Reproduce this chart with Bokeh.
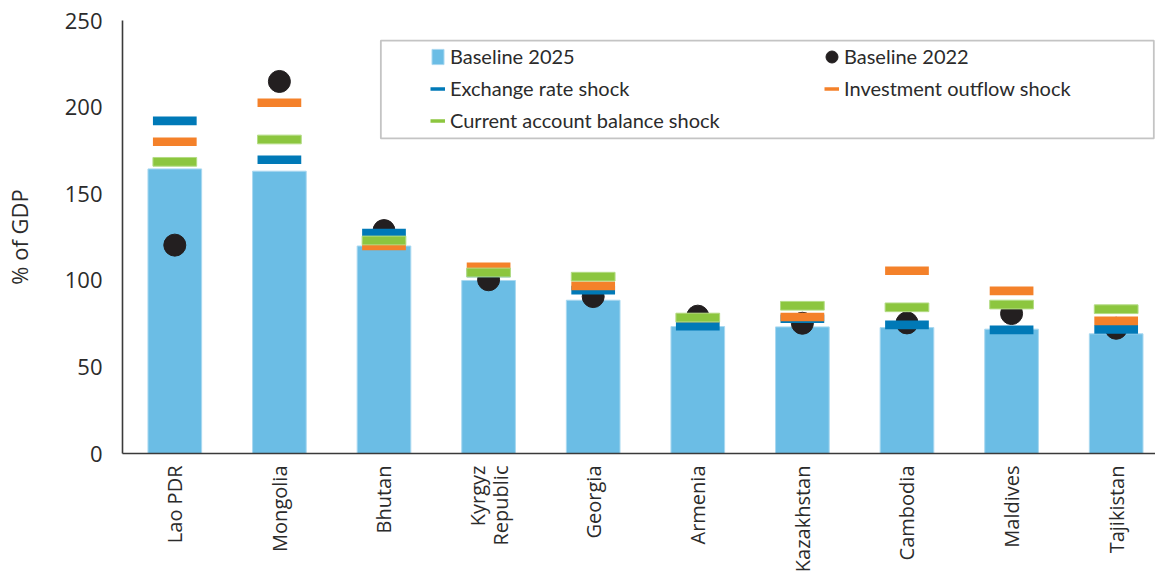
import math
from bokeh.plotting import figure
from bokeh.models import (Range1d, FixedTicker, Legend, LegendItem, BoxAnnotation,
                          ColumnDataSource)
from bokeh.embed import file_html
from bokeh.resources import INLINE

countries = ["Lao PDR", "Mongolia", "Bhutan", "Kyrgyz\nRepublic", "Georgia",
             "Armenia", "Kazakhstan", "Cambodia", "Maldives", "Tajikistan"]
baseline_2025 = [164.3, 163.0, 119.8, 99.9, 88.5, 73.3, 73.1, 72.7, 71.8, 69.1]
baseline_2022 = [120.3, 214.8, 128.7, 100.3, 90.6, 79.3, 75.2, 75.4, 80.8, 72.3]
exchange_rate_shock = [192.1, 169.6, 127.2, 104.3, 94.3, 73.5, 77.8, 74.3, 71.4, 71.7]
investment_outflow_shock = [180.0, 202.5, 119.9, 107.8, 96.8, 78.3, 78.8, 105.5, 93.9, 76.6]
current_account_shock = [168.4, 181.3, 123.0, 104.5, 102.1, 78.5, 85.3, 84.4, 86.0, 83.3]
y_ticks = [0, 50, 100, 150, 200, 250]

xpos = list(range(1, len(countries) + 1))
src = ColumnDataSource(dict(x=xpos, b25=baseline_2025, b22=baseline_2022,
                            ex=exchange_rate_shock, inv=investment_outflow_shock,
                            ca=current_account_shock))

BAR = "#6BBDE5"
BLUE = "#0079B7"
ORANGE = "#F4812A"
GREEN = "#8CC63F"
DOT = "#231F20"
TXT = "#2b2b2b"

p = figure(width=1155, height=575, output_backend="svg", toolbar_location=None,
           x_range=Range1d(0.5, 0.5 + 9.876), y_range=Range1d(0, 250),
           min_border_left=116, min_border_right=0, min_border_top=20,
           min_border_bottom=122)
p.outline_line_color = None
p.xgrid.visible = False
p.ygrid.visible = False
p.background_fill_color = "white"

bars = p.vbar(x="x", top="b25", width=0.513, source=src, fill_color=BAR,
              line_color="#a9d8f0", line_width=1)
dots = p.ellipse(x="x", y="b22", width=22, height=22, width_units="screen",
                 height_units="screen", source=src, fill_color=DOT, line_color=DOT)
p.rect(x="x", y="ex", width=0.418, height=8.7, height_units="screen",
       source=src, fill_color=BLUE, line_color=None)
p.rect(x="x", y="inv", width=0.418, height=8.7, height_units="screen",
       source=src, fill_color=ORANGE, line_color=None)
p.rect(x="x", y="ca", width=0.418, height=8.7, height_units="screen",
       source=src, fill_color=GREEN, line_color="#b3dc84", line_width=1)

# legend-only swatches (no visible data)
nan = float("nan")
l_ex = p.line(x=[nan], y=[nan], line_color=BLUE, line_width=3.5)
l_inv = p.line(x=[nan], y=[nan], line_color=ORANGE, line_width=3.5)
l_ca = p.line(x=[nan], y=[nan], line_color=GREEN, line_width=3.5)

# legend frame
p.add_layout(BoxAnnotation(left=2.97, right=10.36, bottom=181.9, top=238.4,
                           fill_alpha=0, line_color="#3a3a3a", line_width=1.8,
                           level="overlay"))

legend = Legend(items=[
    LegendItem(label="Baseline 2025", renderers=[bars]),
    LegendItem(label="Baseline 2022", renderers=[dots]),
    LegendItem(label="Exchange rate shock", renderers=[l_ex]),
    LegendItem(label="Investment outflow shock", renderers=[l_inv]),
    LegendItem(label="Current account balance shock", renderers=[l_ca]),
], orientation="horizontal", ncols=2, location=(308, 321),
    padding=0, margin=0, spacing=8, glyph_width=15, glyph_height=19,
    label_height=19, label_width=366, label_standoff=5,
    label_text_font="Lato", label_text_font_size="20px", label_text_color=TXT,
    border_line_color=None, background_fill_alpha=0)
p.add_layout(legend, "center")

# axes
p.yaxis.ticker = FixedTicker(ticks=y_ticks)
p.yaxis.axis_label = "% of GDP"
p.yaxis.axis_label_text_font = "Open Sans"
p.yaxis.axis_label_text_font_size = "22px"
p.yaxis.axis_label_text_font_style = "normal"
p.yaxis.axis_label_text_color = TXT
p.yaxis.axis_label_standoff = 28
p.yaxis.major_label_text_font = "Open Sans"
p.yaxis.major_label_text_font_size = "22px"
p.yaxis.major_label_text_color = TXT
p.yaxis.major_label_standoff = 20

p.xaxis.ticker = FixedTicker(ticks=xpos)
p.xaxis.major_label_overrides = {i: c for i, c in zip(xpos, countries)}
p.xaxis.major_label_orientation = math.pi / 2
p.xaxis.major_label_text_font = "Open Sans"
p.xaxis.major_label_text_font_size = "20px"
p.xaxis.major_label_text_line_height = 0.85
p.xaxis.major_label_text_color = TXT
p.xaxis.major_label_standoff = 12

for ax in (p.xaxis, p.yaxis):
    ax.axis_line_color = "#3a3a3a"
    ax.axis_line_width = 1.6
    ax.major_tick_line_color = None
    ax.minor_tick_line_color = None
    ax.major_tick_in = 0
    ax.major_tick_out = 0
    ax.minor_tick_in = 0
    ax.minor_tick_out = 0

open("out.html", "w").write(file_html(p, INLINE))
